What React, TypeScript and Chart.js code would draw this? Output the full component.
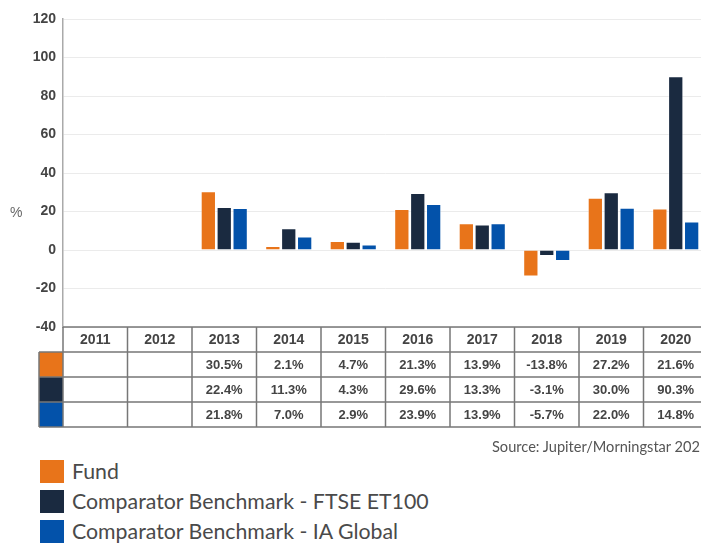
import React, { useEffect, useRef } from 'react';
import { Chart, registerables } from 'chart.js';

Chart.register(...registerables);

const years = ['2011', '2012', '2013', '2014', '2015', '2016', '2017', '2018', '2019', '2020'];
const fund: (number | null)[] = [null, null, 30.5, 2.1, 4.7, 21.3, 13.9, -13.8, 27.2, 21.6];
const ftseEt100: (number | null)[] = [null, null, 22.4, 11.3, 4.3, 29.6, 13.3, -3.1, 30.0, 90.3];
const iaGlobal: (number | null)[] = [null, null, 21.8, 7.0, 2.9, 23.9, 13.9, -5.7, 22.0, 14.8];
const seriesNames = ['Fund', 'Comparator Benchmark - FTSE ET100', 'Comparator Benchmark - IA Global'];
const seriesColors = ['#E8741A', '#1A2A40', '#0352AA'];
const yMin = -40;
const yMax = 120;
const yStep = 20;
const yTitle = '%';
const sourceText = 'Source: Jupiter/Morningstar 2021';

const allSeries = [fund, ftseEt100, iaGlobal];

const tablePlugin = {
  id: 'tablePlugin',
  afterDraw(chart: any) {
    const { ctx, chartArea } = chart;
    const xs = chart.scales.x;
    const ys = chart.scales.y;
    const n = years.length;
    const left = chartArea.left;
    const right = chartArea.right;
    const colW = (right - left) / n;
    const top = chartArea.bottom;
    const rowH = 25;
    const swW = 24;
    ctx.save();
    for (let k = 0; k < 3; k++) {
      ctx.fillStyle = seriesColors[k];
      ctx.fillRect(left - swW, top + rowH * (k + 1), swW, rowH);
    }
    ctx.strokeStyle = '#777';
    ctx.lineWidth = 1.5;
    ctx.beginPath();
    for (let r = 0; r <= 4; r++) {
      const y = top + r * rowH;
      ctx.moveTo(r === 0 ? left : left - swW, y);
      ctx.lineTo(right, y);
    }
    for (let i = 0; i <= n; i++) {
      const x = left + i * colW;
      ctx.moveTo(x, top);
      ctx.lineTo(x, top + 4 * rowH);
    }
    ctx.moveTo(left - swW, top + rowH);
    ctx.lineTo(left - swW, top + 4 * rowH);
    ctx.stroke();

    ctx.fillStyle = '#444';
    ctx.textAlign = 'center';
    ctx.textBaseline = 'middle';
    ctx.font = 'bold 14px "Liberation Sans", Arial, sans-serif';
    for (let i = 0; i < n; i++) {
      const cx = xs.getPixelForValue(i);
      ctx.fillText(years[i], cx, top + rowH / 2 + 1);
    }
    ctx.font = 'bold 13px "Liberation Sans", Arial, sans-serif';
    for (let k = 0; k < 3; k++) {
      for (let i = 0; i < n; i++) {
        const v = allSeries[k][i];
        if (v === null) continue;
        const cx = xs.getPixelForValue(i);
        ctx.fillText(v.toFixed(1) + '%', cx, top + rowH * (k + 1) + rowH / 2 + 1);
      }
    }
    ctx.fillStyle = '#666';
    ctx.font = '14px "Liberation Sans", Arial, sans-serif';
    ctx.textAlign = 'left';
    ctx.fillText(yTitle, 10, ys.getPixelForValue(20) + 2);
    ctx.restore();
  },
};

export default function App() {
  const ref = useRef<HTMLCanvasElement | null>(null);
  useEffect(() => {
    if (!ref.current) return;
    const chart = new Chart(ref.current, {
      type: 'bar',
      data: {
        labels: years,
        datasets: allSeries.map((d, k) => ({
          label: seriesNames[k],
          data: d,
          backgroundColor: seriesColors[k],
          borderColor: 'rgba(255,255,255,0.45)',
          borderWidth: 1,
          barPercentage: 0.96,
          categoryPercentage: 0.74,
        })),
      },
      options: {
        responsive: false,
        animation: false,
        layout: { padding: { top: 19, bottom: 113, left: 0, right: 12 } },
        plugins: { legend: { display: false }, tooltip: { enabled: false } },
        scales: {
          x: { display: false },
          y: {
            min: yMin,
            max: yMax,
            afterFit: (s: any) => {
              s.width = 63;
            },
            ticks: {
              stepSize: yStep,
              color: '#444',
              padding: 7,
              font: { family: '"Liberation Sans", Arial, sans-serif', size: 14, weight: 'bold' },
            },
            grid: { color: '#ebebeb', lineWidth: 1, drawTicks: false },
            border: { color: '#aaa', width: 1.5 },
          },
        },
      },
      plugins: [tablePlugin],
    });
    return () => chart.destroy();
  }, []);

  const legendFont = 'Lato, "Noto Sans", sans-serif';
  return (
    <div style={{ position: 'fixed', left: 0, top: 0, width: 701, height: 547, overflow: 'hidden', background: '#fff' }}>
      <canvas ref={ref} width={720} height={440} style={{ position: 'absolute', left: 0, top: 0 }} />
      <div
        style={{
          position: 'absolute',
          left: 492,
          top: 438,
          whiteSpace: 'nowrap',
          fontFamily: legendFont,
          fontSize: 14.6,
          color: '#555',
          lineHeight: '18px',
        }}
      >
        {sourceText}
      </div>
      {seriesNames.map((name, k) => (
        <div
          key={name}
          style={{
            position: 'absolute',
            left: 40,
            top: 458 + k * 30,
            height: 27,
            display: 'flex',
            alignItems: 'center',
            whiteSpace: 'nowrap',
          }}
        >
          <div style={{ width: 24, height: 23, background: seriesColors[k], marginRight: 8 }} />
          <span style={{ fontFamily: legendFont, fontSize: 21.3, color: '#4a4a4a', lineHeight: '27px' }}>{name}</span>
        </div>
      ))}
    </div>
  );
}
